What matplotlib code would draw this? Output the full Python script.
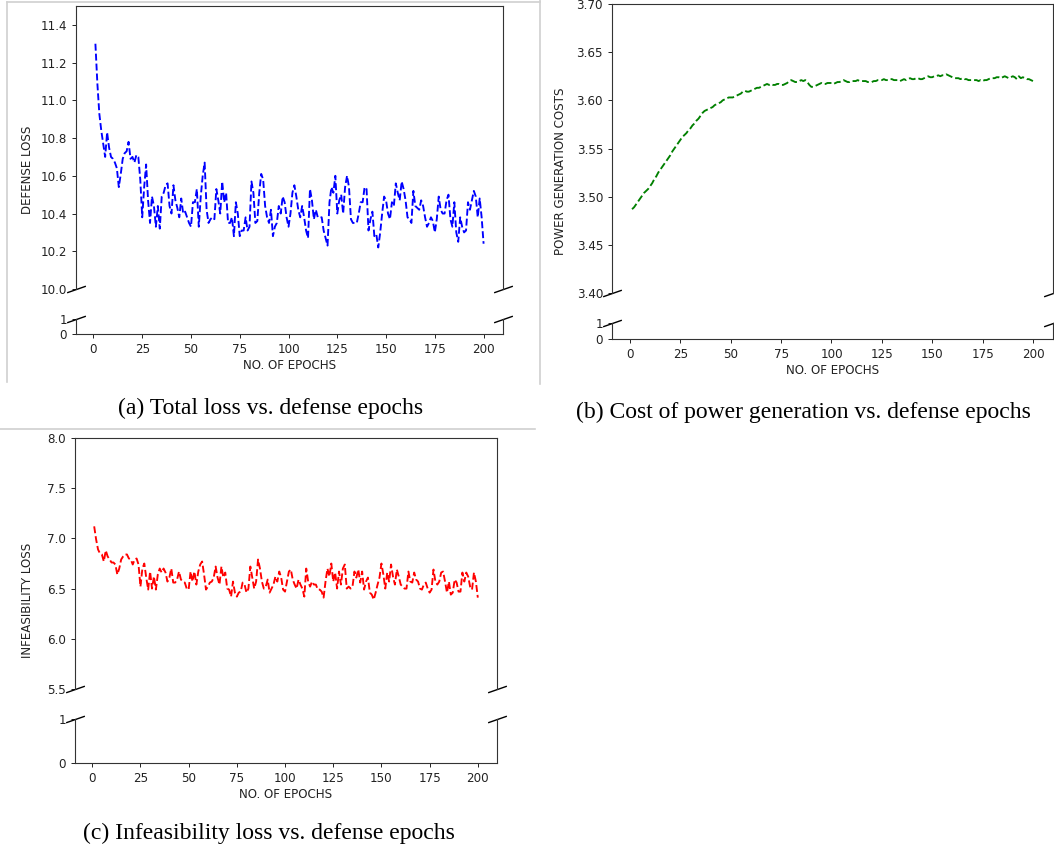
import matplotlib.pyplot as plt
from matplotlib.lines import Line2D

W, H = 1054, 849

epochs = list(range(1, 201))

defense_loss = [
    11.30, 11.09, 10.93, 10.84, 10.77, 10.70, 10.83, 10.75, 10.70, 10.69,
    10.67, 10.64, 10.54, 10.61, 10.69, 10.72, 10.73, 10.78, 10.69, 10.70,
    10.67, 10.71, 10.70, 10.58, 10.38, 10.54, 10.66, 10.47, 10.35, 10.49,
    10.44, 10.33, 10.44, 10.32, 10.49, 10.51, 10.55, 10.56, 10.44, 10.40,
    10.55, 10.47, 10.43, 10.38, 10.48, 10.40, 10.41, 10.38, 10.35, 10.33,
    10.46, 10.46, 10.53, 10.33, 10.49, 10.60, 10.67, 10.42, 10.35, 10.37,
    10.38, 10.37, 10.53, 10.47, 10.40, 10.57, 10.46, 10.51, 10.35, 10.35,
    10.38, 10.28, 10.46, 10.40, 10.28, 10.31, 10.31, 10.38, 10.31, 10.33,
    10.57, 10.51, 10.35, 10.36, 10.51, 10.61, 10.58, 10.44, 10.38, 10.35,
    10.42, 10.28, 10.33, 10.35, 10.44, 10.40, 10.49, 10.46, 10.38, 10.33,
    10.40, 10.51, 10.55, 10.49, 10.42, 10.38, 10.44, 10.38, 10.31, 10.27,
    10.53, 10.47, 10.37, 10.42, 10.38, 10.38, 10.38, 10.31, 10.27, 10.23,
    10.46, 10.54, 10.51, 10.60, 10.40, 10.47, 10.50, 10.40, 10.54, 10.60,
    10.54, 10.37, 10.35, 10.35, 10.35, 10.40, 10.46, 10.46, 10.54, 10.53,
    10.31, 10.37, 10.41, 10.28, 10.29, 10.22, 10.30, 10.40, 10.49, 10.47,
    10.40, 10.37, 10.46, 10.44, 10.56, 10.51, 10.47, 10.57, 10.53, 10.47,
    10.38, 10.37, 10.35, 10.52, 10.44, 10.43, 10.42, 10.47, 10.44, 10.38,
    10.33, 10.35, 10.38, 10.36, 10.30, 10.37, 10.49, 10.42, 10.40, 10.40,
    10.47, 10.50, 10.37, 10.33, 10.46, 10.30, 10.25, 10.38, 10.33, 10.30,
    10.31, 10.46, 10.42, 10.47, 10.52, 10.49, 10.38, 10.48, 10.38, 10.24,
]

power_cost = [
    3.487, 3.489, 3.492, 3.495, 3.498, 3.501, 3.504, 3.506, 3.508, 3.511,
    3.514, 3.518, 3.521, 3.525, 3.528, 3.531, 3.534, 3.537, 3.540, 3.543,
    3.547, 3.550, 3.553, 3.556, 3.559, 3.562, 3.564, 3.566, 3.569, 3.571,
    3.574, 3.576, 3.579, 3.581, 3.584, 3.587, 3.589, 3.590, 3.591, 3.592,
    3.593, 3.595, 3.596, 3.597, 3.598, 3.600, 3.601, 3.602, 3.603, 3.603,
    3.603, 3.604, 3.605, 3.606, 3.607, 3.609, 3.610, 3.609, 3.609, 3.610,
    3.611, 3.612, 3.613, 3.613, 3.614, 3.615, 3.616, 3.617, 3.616, 3.617,
    3.616, 3.616, 3.617, 3.617, 3.616, 3.616, 3.617, 3.618, 3.620, 3.621,
    3.620, 3.619, 3.619, 3.620, 3.621, 3.620, 3.621, 3.619, 3.616, 3.614,
    3.614, 3.615, 3.616, 3.617, 3.618, 3.617, 3.617, 3.618, 3.618, 3.618,
    3.617, 3.618, 3.619, 3.619, 3.620, 3.621, 3.620, 3.619, 3.619, 3.620,
    3.620, 3.620, 3.621, 3.620, 3.620, 3.620, 3.620, 3.619, 3.619, 3.619,
    3.620, 3.620, 3.621, 3.621, 3.621, 3.622, 3.621, 3.621, 3.622, 3.622,
    3.621, 3.621, 3.621, 3.620, 3.621, 3.622, 3.621, 3.622, 3.623, 3.622,
    3.622, 3.623, 3.623, 3.622, 3.622, 3.623, 3.624, 3.625, 3.624, 3.624,
    3.625, 3.625, 3.626, 3.625, 3.626, 3.626, 3.627, 3.626, 3.625, 3.624,
    3.623, 3.623, 3.623, 3.622, 3.623, 3.622, 3.622, 3.621, 3.621, 3.621,
    3.621, 3.621, 3.620, 3.621, 3.620, 3.621, 3.621, 3.622, 3.623, 3.623,
    3.623, 3.624, 3.624, 3.623, 3.624, 3.625, 3.624, 3.623, 3.624, 3.625,
    3.624, 3.622, 3.625, 3.623, 3.624, 3.623, 3.622, 3.622, 3.621, 3.620,
]

infeas_loss = [
    7.12, 6.99, 6.89, 6.85, 6.84, 6.77, 6.88, 6.82, 6.79, 6.76,
    6.76, 6.74, 6.64, 6.70, 6.79, 6.82, 6.84, 6.84, 6.80, 6.79,
    6.74, 6.79, 6.80, 6.74, 6.52, 6.70, 6.75, 6.61, 6.49, 6.67,
    6.50, 6.62, 6.49, 6.64, 6.70, 6.66, 6.70, 6.66, 6.57, 6.61,
    6.70, 6.56, 6.56, 6.59, 6.67, 6.59, 6.57, 6.56, 6.50, 6.49,
    6.67, 6.57, 6.67, 6.54, 6.67, 6.74, 6.77, 6.64, 6.49, 6.52,
    6.56, 6.57, 6.61, 6.72, 6.61, 6.54, 6.72, 6.61, 6.66, 6.50,
    6.49, 6.42, 6.57, 6.46, 6.42, 6.46, 6.47, 6.56, 6.54, 6.46,
    6.50, 6.72, 6.61, 6.50, 6.57, 6.79, 6.70, 6.57, 6.50, 6.52,
    6.59, 6.46, 6.50, 6.54, 6.62, 6.57, 6.67, 6.61, 6.49, 6.47,
    6.57, 6.67, 6.69, 6.59, 6.54, 6.50, 6.59, 6.54, 6.50, 6.42,
    6.70, 6.57, 6.52, 6.57, 6.54, 6.54, 6.49, 6.49, 6.47, 6.41,
    6.57, 6.70, 6.62, 6.75, 6.57, 6.66, 6.50, 6.67, 6.54, 6.70,
    6.74, 6.50, 6.52, 6.50, 6.52, 6.67, 6.61, 6.69, 6.56, 6.67,
    6.49, 6.57, 6.61, 6.46, 6.44, 6.39, 6.46, 6.54, 6.61, 6.75,
    6.64, 6.50, 6.66, 6.57, 6.74, 6.62, 6.54, 6.69, 6.62, 6.54,
    6.52, 6.50, 6.50, 6.67, 6.57, 6.56, 6.66, 6.59, 6.57, 6.50,
    6.49, 6.54, 6.56, 6.50, 6.46, 6.49, 6.69, 6.57, 6.54, 6.57,
    6.66, 6.67, 6.57, 6.46, 6.57, 6.44, 6.46, 6.59, 6.56, 6.47,
    6.47, 6.66, 6.57, 6.66, 6.62, 6.52, 6.49, 6.66, 6.57, 6.41,
]

xticks = [0, 25, 50, 75, 100, 125, 150, 175, 200]

FS = 8.6


def box(l, t, r, b):
    # pixel box -> figure fraction rect
    return [l / W, 1 - b / H, (r - l) / W, (b - t) / H]


def broken_panel(fig, l, r, t, b, t2, b2, y, color, ylim, yticks, yfmt, ylabel, ylabel_x):
    top = fig.add_axes(box(l, t, r, b))
    bot = fig.add_axes(box(l, t2, r, b2), sharex=top)
    top.plot(epochs, y, '--', color=color, lw=1.35)
    top.set_ylim(*ylim)
    top.set_yticks(yticks)
    top.set_yticklabels([yfmt.format(v) for v in yticks])
    bot.set_ylim(0, 1)
    bot.set_yticks([0, 1])
    bot.set_xticks(xticks)
    top.spines['bottom'].set_visible(False)
    bot.spines['top'].set_visible(False)
    top.tick_params(bottom=False, labelbottom=False)
    for ax in (top, bot):
        ax.tick_params(labelsize=FS, length=3, width=0.7, colors='#222222')
        for s in ax.spines.values():
            s.set_linewidth(0.8)
            s.set_color('#333333')
    bot.set_xlabel('NO. OF EPOCHS', fontsize=FS, color='#222222', labelpad=2)
    # break marks
    d = .35
    kw = dict(marker=[(-1, -d), (1, d)], markersize=13.5, linestyle='none',
              color='k', mec='k', mew=1, clip_on=False)
    top.plot([0, 1], [0, 0], transform=top.transAxes, **kw)
    bot.plot([0, 1], [1, 1], transform=bot.transAxes, **kw)
    fig.text(ylabel_x / W, 1 - (t + b2) / 2 / H, ylabel, rotation=90,
             ha='center', va='center', fontsize=FS, color='#222222')
    return top, bot


fig = plt.figure(figsize=(W / 100, H / 100), dpi=100)

broken_panel(fig, 76, 503, 6, 289, 319, 334, defense_loss, 'b', (10.0, 11.5),
             [10.0, 10.2, 10.4, 10.6, 10.8, 11.0, 11.2, 11.4], '{:.1f}',
             'DEFENSE LOSS', 28)
broken_panel(fig, 612, 1053, 4, 293, 323, 339, power_cost, 'g', (3.40, 3.70),
             [3.40, 3.45, 3.50, 3.55, 3.60, 3.65, 3.70], '{:.2f}',
             'POWER GENERATION COSTS', 561)
broken_panel(fig, 75, 497, 438, 689, 719, 763, infeas_loss, 'r', (5.5, 8.0),
             [5.5, 6.0, 6.5, 7.0, 7.5, 8.0], '{:.1f}',
             'INFEASIBILITY LOSS', 28)

# captions
cap = dict(ha='center', va='center', fontsize=17, family='Liberation Serif')
fig.text(271 / W, 1 - 408 / H, '(a) Total loss vs. defense epochs', **cap)
fig.text(803 / W, 1 - 412 / H, '(b) Cost of power generation vs. defense epochs', **cap)
fig.text(269 / W, 1 - 833 / H, '(c) Infeasibility loss vs. defense epochs', **cap)

# light frames of the pasted images
def gline(xs, ys):
    fig.add_artist(Line2D([x / W for x in xs], [1 - v / H for v in ys],
                          color='#d0d0d0', lw=1.2, transform=fig.transFigure))

gline([7, 540], [2, 2])
gline([7, 7], [2, 382])
gline([540, 540], [0, 384])
gline([0, 535], [429, 429])

fig.savefig('out.png', dpi=100)
